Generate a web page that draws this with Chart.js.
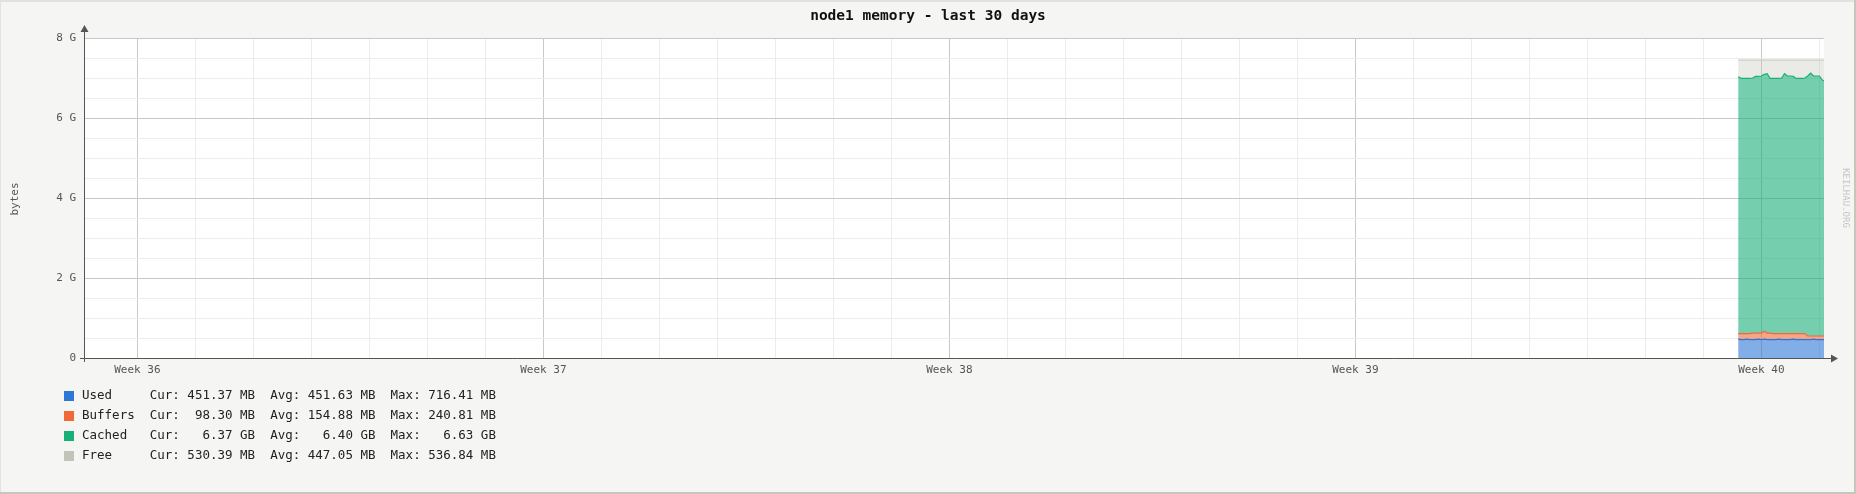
<!DOCTYPE html>
<html>
<head>
<meta charset="utf-8">
<script src="https://cdn.jsdelivr.net/npm/chart.js@4"></script>
<style>
  html, body { margin: 0; padding: 0; background: #f5f5f3; }
  canvas { display: block; }
</style>
</head>
<body>
<canvas id="memoryChart" width="1856" height="494"></canvas>
<script>
// time in days since the start of the 30 day window
const sampleDays = [28.52, 28.57, 28.62, 28.67, 28.72, 28.77, 28.82, 28.87, 28.92, 28.97,
    29.02, 29.07, 29.12, 29.17, 29.22, 29.27, 29.32, 29.37, 29.42, 29.47,
    29.52, 29.57, 29.62, 29.67, 29.72, 29.77, 29.82, 29.87, 29.92, 29.97, 30.0];

// values in G
const usedValues = [0.47, 0.46, 0.46, 0.47, 0.46, 0.46, 0.46, 0.47, 0.46, 0.47,
    0.46, 0.46, 0.46, 0.46, 0.47, 0.46, 0.46, 0.46, 0.46, 0.47,
    0.46, 0.46, 0.46, 0.46, 0.46, 0.46, 0.47, 0.46, 0.46, 0.46, 0.46];
const buffersValues = [0.14, 0.15, 0.15, 0.14, 0.15, 0.16, 0.16, 0.15, 0.16, 0.20,
    0.16, 0.16, 0.15, 0.15, 0.14, 0.15, 0.15, 0.15, 0.15, 0.14,
    0.15, 0.15, 0.15, 0.15, 0.09, 0.09, 0.08, 0.09, 0.09, 0.09, 0.09];
const cachedValues = [6.42, 6.38, 6.38, 6.38, 6.38, 6.38, 6.42, 6.42, 6.43, 6.42,
    6.49, 6.37, 6.38, 6.38, 6.38, 6.39, 6.50, 6.44, 6.44, 6.43,
    6.38, 6.38, 6.38, 6.39, 6.50, 6.57, 6.50, 6.50, 6.50, 6.40, 6.38];
const freeValues = [0.42, 0.46, 0.46, 0.46, 0.46, 0.45, 0.41, 0.41, 0.40, 0.36,
    0.34, 0.46, 0.46, 0.46, 0.46, 0.45, 0.34, 0.40, 0.40, 0.41,
    0.46, 0.46, 0.46, 0.45, 0.40, 0.33, 0.40, 0.40, 0.40, 0.50, 0.52];

// x grid: one line per day, week boundaries get a label
const firstWeekDay = 0.92;
const dayTicks = [];
for (let k = 0; k < 30; k++) dayTicks.push(firstWeekDay + k);
const weekNumbers = [36, 37, 38, 39, 40];

// legend
const seriesNames = ['Used', 'Buffers', 'Cached', 'Free'];
const curText = ['451.37 MB', ' 98.30 MB', '  6.37 GB', '530.39 MB'];
const avgText = ['451.63 MB', '154.88 MB', '  6.40 GB', '447.05 MB'];
const maxText = ['716.41 MB', '240.81 MB', '  6.63 GB', '536.84 MB'];

const lineColors = ['rgb(45, 120, 215)', 'rgb(240, 105, 55)', 'rgb(25, 175, 120)', 'rgb(195, 195, 185)'];
const fillColors = ['rgba(45, 120, 215, 0.6)', 'rgba(240, 105, 55, 0.6)', 'rgba(25, 175, 120, 0.6)', 'rgba(195, 195, 185, 0.35)'];

function points(values) {
    return values.map((v, i) => ({ x: sampleDays[i], y: v }));
}

const mono = '"DejaVu Sans Mono", monospace';

const decor = {
    id: 'decor',
    beforeDraw(chart) {
        const ctx = chart.ctx;
        const a = chart.chartArea;
        ctx.save();
        ctx.fillStyle = '#f5f5f3';
        ctx.fillRect(0, 0, chart.width, chart.height);
        ctx.fillStyle = '#ffffff';
        ctx.fillRect(a.left, a.top, a.right - a.left, a.bottom - a.top);
        ctx.restore();
    },
    afterDraw(chart) {
        const ctx = chart.ctx;
        const a = chart.chartArea;
        ctx.save();

        // frame
        ctx.fillStyle = '#e2e2e0';
        ctx.fillRect(0, 0, chart.width, 2);
        ctx.fillRect(0, 0, 1, chart.height);
        ctx.fillStyle = '#c6c6bc';
        ctx.fillRect(chart.width - 2, 0, 2, chart.height);
        ctx.fillRect(0, chart.height - 2, chart.width, 2);

        // axes with arrows
        ctx.strokeStyle = '#555';
        ctx.fillStyle = '#555';
        ctx.lineWidth = 1;
        ctx.beginPath();
        ctx.moveTo(a.left + 0.5, a.bottom + 4);
        ctx.lineTo(a.left + 0.5, a.top - 6);
        ctx.moveTo(a.left - 4, a.bottom + 0.5);
        ctx.lineTo(a.right + 7, a.bottom + 0.5);
        ctx.stroke();
        ctx.beginPath();
        ctx.moveTo(a.left + 0.5, a.top - 13);
        ctx.lineTo(a.left - 3.5, a.top - 6);
        ctx.lineTo(a.left + 4.5, a.top - 6);
        ctx.closePath();
        ctx.fill();
        ctx.beginPath();
        ctx.moveTo(a.right + 14, a.bottom + 0.5);
        ctx.lineTo(a.right + 7, a.bottom - 3.5);
        ctx.lineTo(a.right + 7, a.bottom + 4.5);
        ctx.closePath();
        ctx.fill();

        // title
        ctx.fillStyle = '#111';
        ctx.font = 'bold 14.5px ' + mono;
        ctx.textAlign = 'center';
        ctx.textBaseline = 'middle';
        ctx.fillText('node1 memory - last 30 days', chart.width / 2, 16);

        // y axis label
        ctx.fillStyle = '#555';
        ctx.font = '11px ' + mono;
        ctx.save();
        ctx.translate(15, 199);
        ctx.rotate(-Math.PI / 2);
        ctx.fillText('bytes', 0, 0);
        ctx.restore();

        // watermark
        ctx.fillStyle = '#c4c4c4';
        ctx.font = '9px ' + mono;
        ctx.save();
        ctx.translate(1845.5, 198);
        ctx.rotate(Math.PI / 2);
        ctx.fillText('KEILHAU.ORG', 0, 0);
        ctx.restore();

        // legend
        ctx.font = '12.5px ' + mono;
        ctx.textAlign = 'left';
        for (let i = 0; i < seriesNames.length; i++) {
            const y = 396 + i * 20;
            ctx.fillStyle = lineColors[i];
            ctx.fillRect(64, y - 5, 10, 10);
            ctx.fillStyle = '#222';
            const row = seriesNames[i].padEnd(9) + 'Cur: ' + curText[i] +
                '  Avg: ' + avgText[i] + '  Max: ' + maxText[i];
            ctx.fillText(row, 82, y);
        }
        ctx.restore();
    }
};

new Chart(document.getElementById('memoryChart'), {
    type: 'line',
    data: {
        datasets: [
            { label: 'Used', data: points(usedValues), fill: 'origin' },
            { label: 'Buffers', data: points(buffersValues), fill: '-1' },
            { label: 'Cached', data: points(cachedValues), fill: '-1' },
            { label: 'Free', data: points(freeValues), fill: '-1' }
        ].map((d, i) => Object.assign(d, {
            borderColor: lineColors[i],
            backgroundColor: fillColors[i],
            borderWidth: 1.2,
            pointRadius: 0,
            tension: 0
        }))
    },
    options: {
        responsive: false,
        animation: false,
        devicePixelRatio: 1,
        layout: { padding: { left: 0, right: 32, top: 38, bottom: 112 } },
        plugins: {
            legend: { display: false },
            title: { display: false },
            tooltip: { enabled: false }
        },
        scales: {
            x: {
                type: 'linear',
                min: 0,
                max: 30,
                afterBuildTicks: (scale) => {
                    scale.ticks = dayTicks.map(v => ({ value: v }));
                },
                afterFit: (scale) => { scale.height = 24; },
                border: { display: false },
                grid: {
                    drawTicks: false,
                    color: (c) => {
                        const k = Math.round(c.tick.value - firstWeekDay);
                        return k % 7 === 0 ? '#c8c8c8' : '#ececec';
                    }
                },
                ticks: {
                    autoSkip: false,
                    maxRotation: 0,
                    padding: 6,
                    color: '#555',
                    font: { family: mono, size: 11 },
                    callback: (value) => {
                        const k = Math.round(value - firstWeekDay);
                        return k % 7 === 0 ? 'Week ' + weekNumbers[k / 7] : '';
                    }
                }
            },
            y: {
                stacked: true,
                min: 0,
                max: 8,
                afterFit: (scale) => { scale.width = 84; },
                border: { display: false },
                grid: {
                    drawTicks: false,
                    color: (c) => (c.tick.value % 2 === 0 ? '#c8c8c8' : '#ececec')
                },
                ticks: {
                    stepSize: 0.5,
                    padding: 8,
                    color: '#555',
                    font: { family: mono, size: 11 },
                    callback: (value) => {
                        if (value % 2 !== 0) return '';
                        return value === 0 ? '0' : value + ' G';
                    }
                }
            }
        }
    },
    plugins: [decor]
});
</script>
</body>
</html>
